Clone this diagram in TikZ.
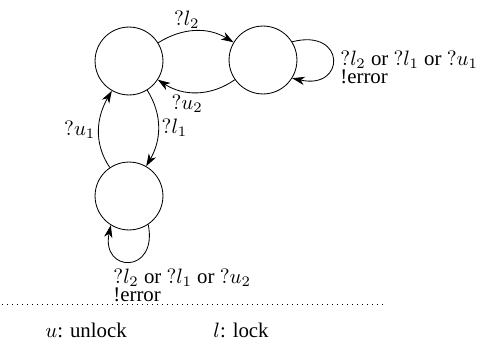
\documentclass[tikz,border=0pt]{standalone}
\usepackage{amsfonts,amssymb,amsmath}
\usepackage{fontspec}
\setmainfont{Liberation Serif}
\usepackage{tikz}
\usetikzlibrary{arrows.meta}
\newcommand\tightlines{\baselineskip=8.6pt\lineskiplimit=-20pt\relax}

\begin{document}
\begin{tikzpicture}[x=0.48pt,y=0.48pt,>={Stealth[length=6pt,width=4pt,inset=1.8pt]},
state/.style={shape=circle,draw,minimum size=32.6pt,inner sep=0pt},
lbl/.style={inner sep=1.5pt},
loop lbl/.style={inner sep=0pt,align=left,anchor=west,font=\tightlines}]
\useasboundingbox(0,0)rectangle(482,340);
\node[state](top)at(129,279){};
\node[state](right)at(263,280){};
\node[state](bottom)at(129,144){};
\draw[->](top)to[out=32,in=149]node[lbl,pos=0.38,above]{$?l_2$}(right);
\draw[->](right)to[out=215,in=327]node[lbl,pos=0.62,below]{$?u_2$}(top);
\draw[->](top)to[out=-58,in=60]node[lbl,midway,right]{$?l_1$}(bottom);
\draw[->](bottom)to[out=124,in=240]node[lbl,midway,left]{$?u_1$}(top);
\draw[->](right.32)..controls+(54,14)and+(54,-12)..(right.-32);
\draw[->](bottom.-56)..controls+(10,-50)and+(-10,-48)..(bottom.-122);
\node[loop lbl](rlbl)at(340,273){$?l_2$ or $?l_1$ or $?u_1$\\!error};
\node[loop lbl](blbl)at(113,55){$?l_2$ or $?l_1$ or $?u_2$\\!error};
\draw[dotted](2,36)--(386,36);
\node[inner sep=0pt,anchor=base west](ulbl)at(45,3){$u$: unlock};
\node[inner sep=0pt,anchor=base west](llbl)at(213,3){$l$: lock};
\end{tikzpicture}
\end{document}
